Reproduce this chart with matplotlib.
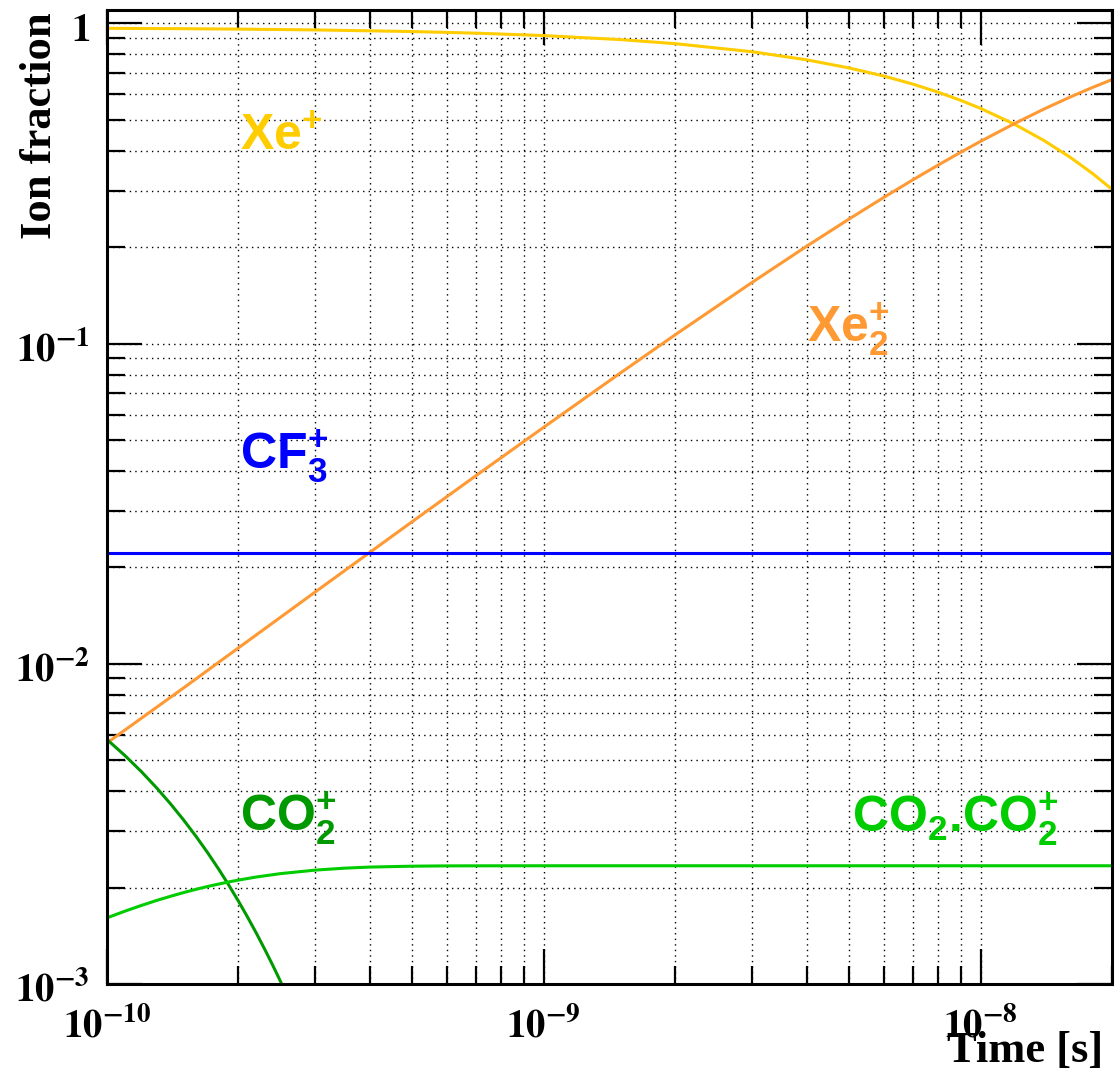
import matplotlib
matplotlib.use("Agg")
import matplotlib.pyplot as plt
import matplotlib.transforms as mtransforms
from matplotlib.ticker import LogLocator, NullFormatter

# Time samples [s] and ion fractions
t_xe = [1e-10, 1.5e-10, 2e-10, 3e-10, 5e-10, 7e-10, 1e-9, 1.5e-9, 2e-9, 3e-9,
        4e-9, 5e-9, 6e-9, 7e-9, 8e-9, 9e-9, 1e-8, 1.2e-8, 1.4e-8, 1.6e-8,
        1.8e-8, 2e-8]
xe_plus = [0.9644, 0.9616, 0.9588, 0.9532, 0.9422, 0.9313, 0.9152, 0.8890,
           0.8635, 0.8148, 0.7687, 0.7253, 0.6843, 0.6456, 0.6092, 0.5747,
           0.5423, 0.4827, 0.4297, 0.3825, 0.3405, 0.3031]
xe2_plus = [0.00566, 0.00842, 0.01121, 0.01677, 0.02779, 0.03869, 0.05476,
            0.0810, 0.1065, 0.1552, 0.2013, 0.2447, 0.2857, 0.3244, 0.3608,
            0.3953, 0.4277, 0.4872, 0.5403, 0.5873, 0.6294, 0.6668]

t_cf3 = [1e-10, 2e-8]
cf3_plus = [0.0221, 0.0221]

t_co2 = [1.0e-10, 1.1e-10, 1.2e-10, 1.3e-10, 1.4e-10, 1.5e-10, 1.6e-10,
         1.7e-10, 1.8e-10, 1.9e-10, 2.0e-10, 2.1e-10, 2.2e-10, 2.3e-10,
         2.4e-10, 2.5e-10, 2.6e-10, 2.7e-10, 2.8e-10]
co2_plus = [0.00580, 0.005163, 0.004597, 0.004092, 0.003643, 0.003243,
            0.002887, 0.002570, 0.002288, 0.002037, 0.001813, 0.001614,
            0.001437, 0.001279, 0.001139, 0.001014, 0.000902, 0.000803,
            0.000715]

t_dimer = [1e-10, 1.1e-10, 1.2e-10, 1.3e-10, 1.4e-10, 1.5e-10, 1.6e-10,
           1.7e-10, 1.8e-10, 1.9e-10, 2e-10, 2.2e-10, 2.5e-10, 3e-10,
           3.5e-10, 4e-10, 5e-10, 6e-10, 7e-10, 1e-9, 2e-9, 5e-9, 1e-8, 2e-8]
co2_dimer_plus = [0.001609, 0.001689, 0.001760, 0.001824, 0.001880, 0.001931,
                  0.001976, 0.002016, 0.002051, 0.002083, 0.002111, 0.002159,
                  0.002212, 0.002268, 0.002300, 0.002318, 0.002333, 0.002338,
                  0.002339, 0.00234, 0.00234, 0.00234, 0.00234, 0.00234]

y_ticks = [1e-3, 1e-2, 1e-1, 1]
y_tick_labels = [r"$\mathbf{10^{-3}}$", r"$\mathbf{10^{-2}}$",
                 r"$\mathbf{10^{-1}}$", r"$\mathbf{1}$"]
x_ticks = [1e-10, 1e-9, 1e-8]
x_tick_labels = [r"$\mathbf{10^{-10}}$", r"$\mathbf{10^{-9}}$",
                 r"$\mathbf{10^{-8}}$"]

plt.rcParams["mathtext.fontset"] = "custom"
plt.rcParams["mathtext.rm"] = "Liberation Sans:bold"
plt.rcParams["mathtext.bf"] = "Liberation Sans:bold"
plt.rcParams["mathtext.it"] = "Liberation Sans:bold"
plt.rcParams["mathtext.sf"] = "Liberation Sans:bold"

W, H = 1115, 1071
fig = plt.figure(figsize=(W / 100, H / 100), dpi=100)
L, R, T, B = 107, 1112, 10, 984
ax = fig.add_axes([L / W, 1 - B / H, (R - L) / W, (B - T) / H])

ax.set_xscale("log")
ax.set_yscale("log")
ax.set_xlim(1e-10, 2e-8)
ax.set_ylim(1e-3, 1.1)

lw = 2.2
ax.plot(t_xe, xe_plus, color="#ffcc00", lw=lw)
ax.plot(t_xe, xe2_plus, color="#ff9933", lw=lw)
ax.plot(t_cf3, cf3_plus, color="#0000ff", lw=lw)
ax.plot(t_co2, co2_plus, color="#009900", lw=lw)
ax.plot(t_dimer, co2_dimer_plus, color="#00cc00", lw=lw)

# Ticks and dotted grid
for axis in (ax.xaxis, ax.yaxis):
    axis.set_major_locator(LogLocator(base=10, numticks=20))
    axis.set_minor_locator(LogLocator(base=10, subs=range(2, 10), numticks=20))
    axis.set_major_formatter(NullFormatter())
    axis.set_minor_formatter(NullFormatter())
ax.tick_params(which="both", direction="in", top=True, right=True,
               width=1.6, color="black")
ax.tick_params(which="major", length=25)
ax.tick_params(which="minor", length=13)
ax.grid(True, which="both", color="black", linestyle=(0, (1, 3)), lw=1.0)
for sp in ax.spines.values():
    sp.set_linewidth(2.2)

# Tick labels in bold serif
yoff = mtransforms.offset_copy(ax.get_yaxis_transform(), fig=fig, x=-17, y=-18, units="dots")
for v, s in zip(y_ticks, y_tick_labels):
    ax.text(0, v, s, transform=yoff, ha="right", va="baseline", fontsize=28,
            math_fontfamily="stix", clip_on=False)
xoff = mtransforms.offset_copy(ax.get_xaxis_transform(), fig=fig, y=-54, units="dots")
for v, s in zip(x_ticks, x_tick_labels):
    ax.text(v, 0, s, transform=xoff, ha="center", va="baseline", fontsize=28,
            math_fontfamily="stix", clip_on=False)

# Axis titles
fig.text(51 / W, 1 - 12 / H, "Ion fraction", rotation=90, rotation_mode="anchor",
         ha="right", va="baseline", fontsize=32, fontweight="bold",
         family="Liberation Serif")
fig.text(1103 / W, 1 - 1062 / H, "Time [s]", ha="right", va="baseline",
         fontsize=32, fontweight="bold", family="Liberation Serif")

# Species labels
def ax_frac(px, py):
    return (px - L) / (R - L), (B - py) / (B - T)

labels = [
    (r"$\mathrm{Xe}^{+}$", (240, 150), "#ffcc00"),
    (r"$\mathrm{Xe}_{2}^{+}$", (807, 343), "#ff9933"),
    (r"$\mathrm{CF}_{3}^{+}$", (240, 470), "#0000ff"),
    (r"$\mathrm{CO}_{2}^{+}$", (240, 832), "#009900"),
    (r"$\mathrm{CO}_{2}.\hspace{-0.2}\mathrm{CO}_{2}^{+}$", (852, 833), "#00cc00"),
]
for s, (px, py), c in labels:
    fx, fy = ax_frac(px, py)
    ax.text(fx, fy, s, transform=ax.transAxes, ha="left", va="baseline",
            fontsize=36, color=c)

fig.savefig("out.png", dpi=100)
